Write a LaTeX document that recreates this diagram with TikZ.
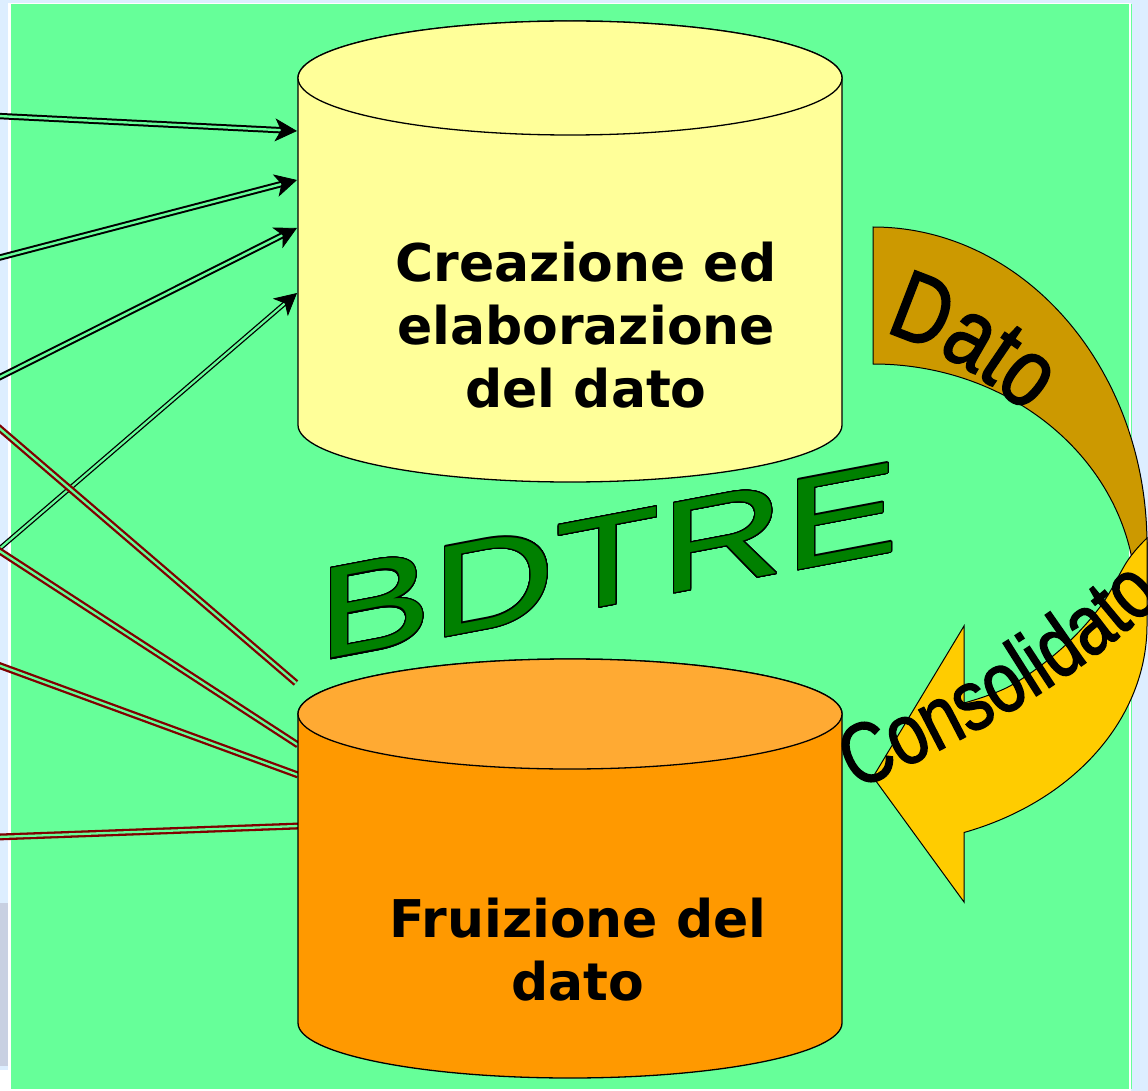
\documentclass[tikz,border=0pt]{standalone}
\usepackage{fontspec}
\usepackage{contour}
\usetikzlibrary{arrows.meta,decorations.text,calc}
\newfontfamily\boxfont{DejaVu Sans}
\newfontfamily\arcfont[FakeStretch=0.8, FakeBold=1.6]{Liberation Sans}
\newfontfamily\bdfont[FakeStretch=1.32]{Liberation Sans}
\definecolor{bgblue}{HTML}{DDEEFF}
\definecolor{stripgray}{HTML}{C8D0E2}
\definecolor{greenbg}{HTML}{66FF99}
\definecolor{cylA}{HTML}{FFFF99}
\definecolor{cylB}{HTML}{FF9900}
\definecolor{cylBtop}{HTML}{FFAA33}
\definecolor{goldband}{HTML}{CC9900}
\definecolor{amberband}{HTML}{FFCC00}
\definecolor{dgreen}{HTML}{008000}
\definecolor{dred}{HTML}{800000}
\contourlength{1.2pt}
\contournumber{32}
\begin{document}
\begin{tikzpicture}[x=1pt,y=-1pt,
  blkline/.style={draw=black, line width=2pt, double=greenbg, double distance=2.4pt},
  blkthin/.style={draw=black, line width=1.3pt, double=greenbg, double distance=2.2pt},
  redline/.style={draw=dred, line width=2.3pt, double=greenbg, double distance=2.3pt},
  tipline/.style={-{Stealth[length=22pt,width=23pt,inset=6pt]}, line width=0.8pt, draw=black},
  cyl/.style={draw=black, line width=1.3pt},
  boxtxt/.style={font=\boxfont\bfseries\fontsize{52}{63}\selectfont, align=center, inner sep=0pt},
  band/.style={draw=black, line width=1pt}
]
\useasboundingbox (0,0) rectangle (1148,1091);
% background
\fill[bgblue] (0,0) rectangle (1148,1091);
\fill[white] (8,3) rectangle (1131,1091);
\fill[greenbg] (11,4) rectangle (1129,1089);
\fill[greenbg] (1131,4) rectangle (1132,1089);
\fill[stripgray] (0,903) rectangle (8,1066);
\fill[white] (0,1070) rectangle (8,1091);

% end points
\coordinate (s1) at (-2,116);  \coordinate (e1) at (297,131);
\coordinate (s2) at (-2,258);  \coordinate (e2) at (297,180);
\coordinate (s3) at (-2,378);  \coordinate (e3) at (297,228);
\coordinate (s4) at (-2,550);  \coordinate (e4) at (297,293);
\coordinate (r1s) at (-2,427); \coordinate (r1e) at (296,683);
\coordinate (r2s) at (-2,550); \coordinate (r2e) at (298,745);
\coordinate (r3s) at (-2,665); \coordinate (r3e) at (298,775);
\coordinate (r4s) at (-2,837); \coordinate (r4e) at (298,826);

% black input lines with arrows
\foreach \i in {1,2,3}{
  \draw[blkline, shorten >=13pt] (s\i) -- (e\i);
  \draw[tipline] ($(e\i)!15pt!(s\i)$) -- (e\i);
}
\draw[blkthin, shorten >=13pt] (s4) -- (e4);
\draw[tipline] ($(e4)!15pt!(s4)$) -- (e4);

% red output lines
\draw[redline] (r1s) -- (r1e);
\draw[redline] (r2s) -- (r2e);
\draw[redline] (r3s) -- (r3e);
\draw[redline] (r4s) -- (r4e);

% top cylinder
\filldraw[cyl, fill=cylA] (298,78) -- (298,425)
  arc[start angle=180, end angle=360, x radius=272pt, y radius=57pt]
  -- (842,78) arc[start angle=0, end angle=180, x radius=272pt, y radius=57pt] -- cycle;
\filldraw[cyl, fill=cylA] (570,78) ellipse[x radius=272pt, y radius=57pt];
\node[boxtxt, anchor=north] (t1) at (586,241.5) {Creazione ed\\elaborazione\\del dato};

% bottom cylinder
\filldraw[cyl, fill=cylB] (298,714) -- (298,1023)
  arc[start angle=180, end angle=360, x radius=272pt, y radius=55pt]
  -- (842,714) arc[start angle=0, end angle=180, x radius=272pt, y radius=55pt] -- cycle;
\filldraw[cyl, fill=cylBtop] (570,714) ellipse[x radius=272pt, y radius=55pt];
\node[boxtxt, anchor=north] (t2) at (578,897.5) {Fruizione del\\dato};

% curved arrow: back band
\filldraw[band, fill=goldband] (873,227)
  arc[start angle=90, end angle=0, x radius=274pt, y radius=318pt]
  -- (1147,600) -- (1136,600)
  arc[start angle=0, end angle=90, x radius=263pt, y radius=236pt]
  -- cycle;
% front band with head
\filldraw[band, fill=amberband] (873,777) -- (964,626) -- (964,703)
  -- plot[smooth, tension=0.6] coordinates {(964,703) (1010,686) (1060,650) (1100,607) (1128,560) (1147,538)}
  -- (1147,625)
  arc[start angle=0, end angle=-70.6, x radius=274pt, y radius=220pt]
  -- (964,902) -- cycle;

% arrow words
\begin{scope}[transform canvas={shift={(884,333)}}]
\path[decorate, decoration={text along path, text align=left,
  text={|\arcfont\fontsize{98}{98}\selectfont|Dato}}]
  (0,0) .. controls (36,8) and (100,38) .. (170,105);
\end{scope}
\begin{scope}[transform canvas={shift={(856,790)}}]
\path[decorate, decoration={text along path, text align=left,
  text={|\arcfont\fontsize{86}{86}\selectfont|Consolidato}}]
  (0,0) .. controls (110,-50) and (240,-115) .. (340,-225);
\end{scope}

% BDTRE
\node[font=\bdfont\fontsize{130}{130}\selectfont, text=dgreen, inner sep=0pt,
  anchor=base west, transform shape, yslant=0.19] (bd) at (317,661)
  {\contour{black}{BDTRE}};
\end{tikzpicture}
\end{document}
